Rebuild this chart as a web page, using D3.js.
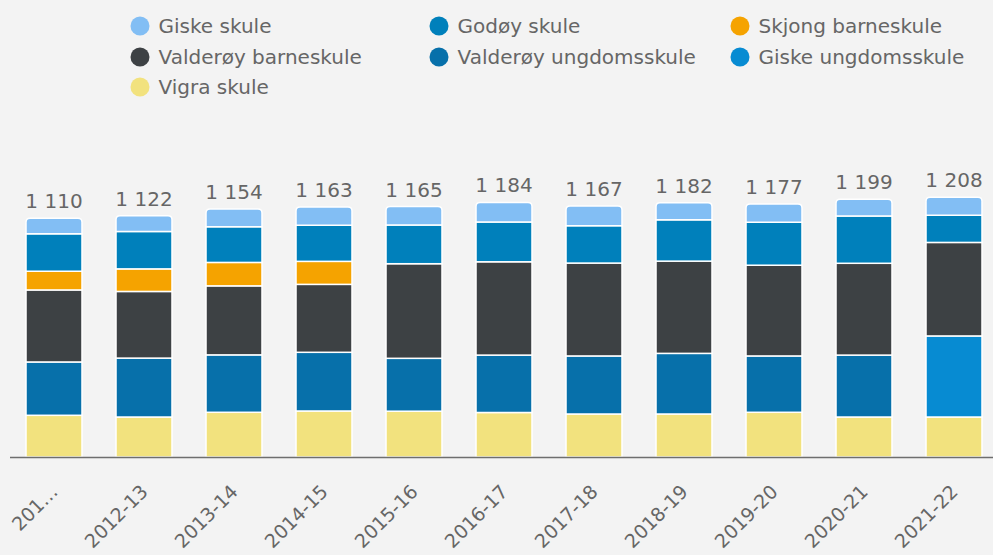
<!DOCTYPE html>
<html>
<head>
<meta charset="utf-8">
<script src="https://cdn.jsdelivr.net/npm/d3@7"></script>
<style>
  html, body { margin: 0; padding: 0; background: #f3f3f3; }
  svg { display: block; font-family: "DejaVu Sans", sans-serif; }
</style>
</head>
<body>
<svg id="chart" width="993" height="555"></svg>
<script>
// ---- DATA ----
const categories = ["2011-12","2012-13","2013-14","2014-15","2015-16","2016-17","2017-18","2018-19","2019-20","2020-21","2021-22"];
const tickLabels = ["201…","2012-13","2013-14","2014-15","2015-16","2016-17","2017-18","2018-19","2019-20","2020-21","2021-22"];

const giskeSkule          = [72, 73, 83, 85, 86, 91, 91, 79, 85, 78, 83];
const godoySkule          = [174, 174, 166, 168, 180, 185, 174, 192, 200, 220, 127];
const skjongBarneskule    = [87, 105, 109, 107, 0, 0, 0, 0, 0, 0, 0];
const valderoyBarneskule  = [335, 310, 321, 316, 440, 434, 432, 429, 422, 427, 435];
const valderoyUngdom      = [248, 274, 267, 273, 246, 267, 270, 282, 262, 288, 0];
const giskeUngdom         = [0, 0, 0, 0, 0, 0, 0, 0, 0, 0, 377];
const vigraSkule          = [194, 186, 208, 214, 213, 207, 200, 200, 208, 186, 186];

// legend order
const seriesNames  = ["Giske skule","Godøy skule","Skjong barneskule","Valderøy barneskule","Valderøy ungdomsskule","Giske ungdomsskule","Vigra skule"];
const seriesValues = [giskeSkule, godoySkule, skjongBarneskule, valderoyBarneskule, valderoyUngdom, giskeUngdom, vigraSkule];
const seriesColors = ["#82bef4","#0080bb","#f5a300","#3d4144","#0770aa","#078bd2","#f2e27e"];

// ---- BUILD ----
const svg = d3.select("#chart");
const W = 993, H = 555;
const baseY = 457;

const rows = categories.map((c, i) => {
  const r = { cat: c };
  seriesNames.forEach((s, j) => r[s] = seriesValues[j][i]);
  return r;
});

// stack bottom->top = reverse legend order
const stackKeys = seriesNames.slice().reverse();
const stacked = d3.stack().keys(stackKeys)(rows);

const x = d3.scaleBand().domain(categories).range([9, 999]).paddingInner(0.378).paddingOuter(0.189);
const y = d3.scaleLinear().domain([0, 1400]).range([baseY, baseY - 1400 * 0.215]);

const colorOf = d3.scaleOrdinal().domain(seriesNames).range(seriesColors);

// bars
const topKey = "Giske skule";
const r = 4;
function roundedTop(x0, y0, w, h) {
  const rr = Math.min(r, h);
  return `M${x0},${y0 + h}V${y0 + rr}Q${x0},${y0} ${x0 + rr},${y0}H${x0 + w - rr}Q${x0 + w},${y0} ${x0 + w},${y0 + rr}V${y0 + h}Z`;
}

stacked.forEach(layer => {
  const g = svg.append("g").attr("fill", colorOf(layer.key));
  layer.forEach((d, i) => {
    if (d[1] - d[0] <= 0) return;
    const x0 = x(categories[i]);
    const y0 = y(d[1]);
    const h = y(d[0]) - y(d[1]);
    if (layer.key === topKey) {
      g.append("path")
        .attr("d", roundedTop(x0, y0, x.bandwidth(), h))
        .attr("stroke", "#ffffff").attr("stroke-width", 1.5);
    } else {
      g.append("rect")
        .attr("x", x0).attr("y", y0)
        .attr("width", x.bandwidth()).attr("height", h)
        .attr("stroke", "#ffffff").attr("stroke-width", 1.5);
    }
  });
});

// totals
const fmt = d3.formatLocale({ decimal: ",", thousands: " ", grouping: [3], currency: ["", " kr"] }).format(",d");
const totals = rows.map(rw => d3.sum(seriesNames, s => rw[s]));
svg.append("g").selectAll("text").data(totals).join("text")
  .attr("x", (d, i) => x(categories[i]) + x.bandwidth() / 2)
  .attr("y", d => y(d) - 10)
  .attr("text-anchor", "middle")
  .attr("font-size", 20)
  .attr("fill", "#666666")
  .text(d => fmt(d));

// x axis line
svg.append("line")
  .attr("x1", 10).attr("x2", W)
  .attr("y1", baseY + 0.5).attr("y2", baseY + 0.5)
  .attr("stroke", "#6e6e6e").attr("stroke-width", 1.5);

// x axis labels
const xAxis = d3.axisBottom(x).tickSize(0).tickFormat((d, i) => tickLabels[i]);
const axG = svg.append("g").attr("transform", `translate(0,${baseY})`).call(xAxis);
axG.select(".domain").remove();
axG.selectAll(".tick text")
  .attr("font-family", "DejaVu Sans, sans-serif")
  .attr("font-size", 19)
  .attr("fill", "#666666")
  .attr("text-anchor", "end")
  .attr("x", 0).attr("y", 0).attr("dy", 0)
  .attr("transform", "translate(5,36) rotate(-45)");

// legend
const legCols = [140, 439, 740];
const legRows = [26, 57, 87];
const leg = svg.append("g");
seriesNames.forEach((s, i) => {
  const cx = legCols[i % 3], cy = legRows[Math.floor(i / 3)];
  leg.append("circle").attr("cx", cx).attr("cy", cy).attr("r", 9.5).attr("fill", seriesColors[i]);
  leg.append("text").attr("x", cx + 18.5).attr("y", cy).attr("dy", "0.35em")
    .attr("font-size", 20).attr("fill", "#666666").text(s);
});
</script>
</body>
</html>
